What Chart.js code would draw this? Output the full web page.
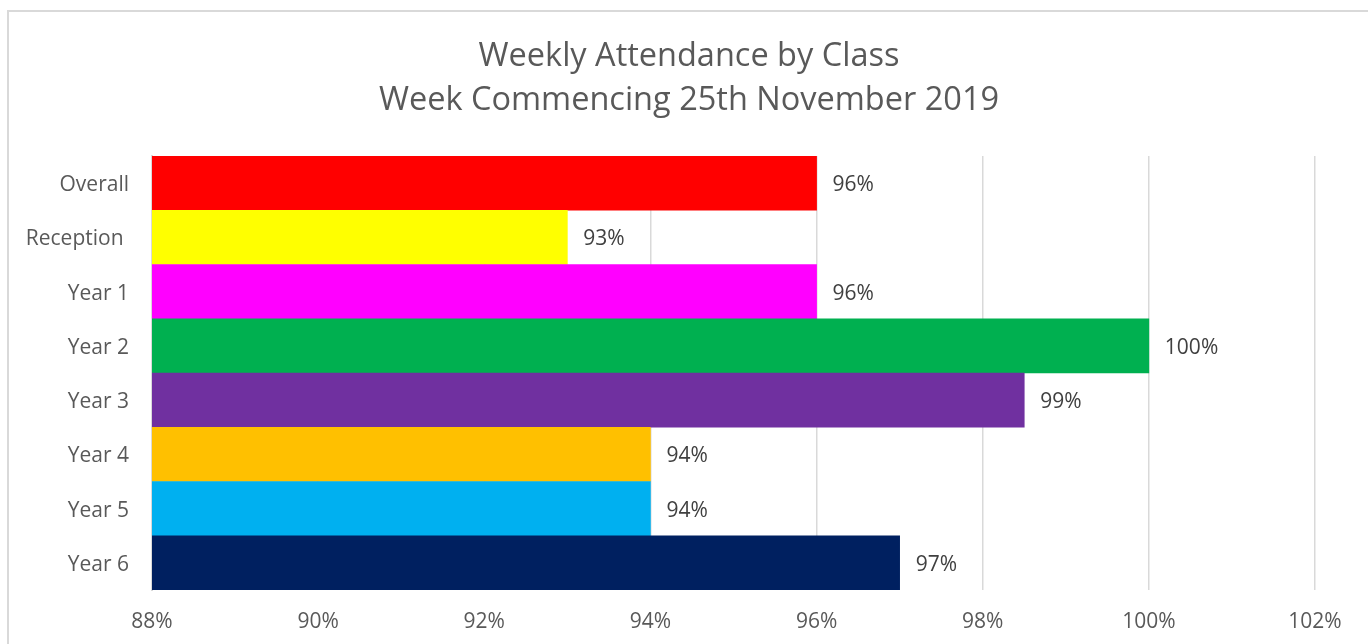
<!DOCTYPE html>
<html>
<head>
<meta charset="utf-8">
<script src="https://cdn.jsdelivr.net/npm/chart.js@4/dist/chart.umd.min.js"></script>
<style>
  html, body { margin: 0; padding: 0; background: #fff; overflow: hidden; }
  #frame { position: absolute; left: 7px; top: 10px; width: 1400px; height: 700px; border: 2px solid #d9d9d9; box-sizing: border-box; }
  #wrap { position: absolute; left: 0; top: 0; width: 1368px; height: 644px; }
</style>
</head>
<body>
<div id="frame"></div>
<div id="wrap"><canvas id="attendanceChart"></canvas></div>
<script>
const classes = ['Overall', 'Reception ', 'Year 1', 'Year 2', 'Year 3', 'Year 4', 'Year 5', 'Year 6'];
const attendance = [96, 93, 96, 100, 98.5, 94, 94, 97];
const barColours = ['#ff0000', '#ffff00', '#ff00ff', '#00b050', '#7030a0', '#ffc000', '#00b0f0', '#002060'];
const axisMin = 88;
const axisMax = 102;

const labelFont = { family: 'Open Sans', size: 21 };

// value labels to the right of each bar
const barLabels = {
    id: 'barLabels',
    afterDatasetsDraw(chart) {
        const ctx = chart.ctx;
        const meta = chart.getDatasetMeta(0);
        ctx.save();
        ctx.font = labelFont.size + 'px "' + labelFont.family + '"';
        ctx.fillStyle = '#404040';
        ctx.textAlign = 'left';
        ctx.textBaseline = 'middle';
        meta.data.forEach(function (bar, i) {
            ctx.fillText(Math.round(attendance[i]) + '%', bar.x + 16, bar.y + 2);
        });
        ctx.restore();
    }
};

document.addEventListener("DOMContentLoaded", function () {
    const ctx = document.getElementById('attendanceChart').getContext('2d');
    new Chart(ctx, {
        type: 'bar',
        data: {
            labels: classes,
            datasets: [{
                data: attendance,
                backgroundColor: barColours,
                borderWidth: 0,
                barPercentage: 1,
                categoryPercentage: 1
            }]
        },
        options: {
            indexAxis: 'y',
            responsive: true,
            maintainAspectRatio: false,
            animation: false,
            layout: { padding: { left: 10, right: 0, top: 0, bottom: 0 } },
            plugins: {
                legend: { display: false },
                tooltip: { enabled: false },
                title: {
                    display: true,
                    text: ['Weekly Attendance by Class', 'Week Commencing 25th November 2019'],
                    color: '#595959',
                    font: { family: 'Open Sans', size: 32.5, weight: 'normal', lineHeight: 1.354 },
                    padding: { top: 35, bottom: 33 }
                }
            },
            scales: {
                x: {
                    min: axisMin,
                    max: axisMax,
                    afterFit: function (scale) { scale.height = 54; },
                    ticks: {
                        stepSize: 2,
                        padding: 19,
                        color: '#595959',
                        font: labelFont,
                        callback: function (v) { return v + '%'; }
                    },
                    grid: { color: '#d9d9d9', lineWidth: 1.5, drawTicks: false },
                    border: { display: false }
                },
                y: {
                    afterFit: function (scale) { scale.width = 142; },
                    ticks: {
                        padding: 23,
                        labelOffset: 2,
                        color: '#595959',
                        font: labelFont
                    },
                    grid: { display: false, drawTicks: false },
                    border: { display: true, color: '#d9d9d9', width: 2 }
                },
                // empty right-hand gutter so the title centres on the frame
                gutter: {
                    type: 'linear',
                    position: 'right',
                    afterFit: function (scale) { scale.width = 53; },
                    ticks: { display: false },
                    grid: { display: false, drawTicks: false },
                    border: { display: false }
                }
            }
        },
        plugins: [barLabels]
    });
});
</script>
</body>
</html>
